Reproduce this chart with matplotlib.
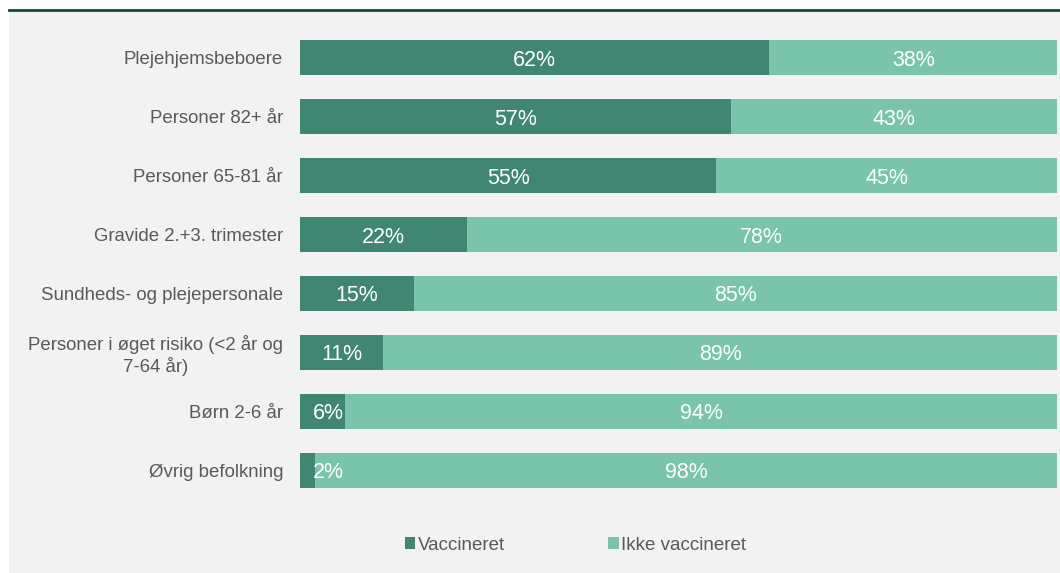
import matplotlib
matplotlib.use("Agg")
import matplotlib.pyplot as plt
from matplotlib import patches

plt.rcParams['font.family'] = ['Liberation Sans', 'DejaVu Sans']

categories = [
    'Plejehjemsbeboere',
    'Personer 82+ år',
    'Personer 65-81 år',
    'Gravide 2.+3. trimester',
    'Sundheds- og plejepersonale',
    'Personer i øget risiko (<2 år og\n7-64 år)',
    'Børn 2-6 år',
    'Øvrig befolkning',
]
vaccineret = [62, 57, 55, 22, 15, 11, 6, 2]
ikke_vaccineret = [38, 43, 45, 78, 85, 89, 94, 98]
series_names = ['Vaccineret', 'Ikke vaccineret']

dark = '#418673'
light = '#79c4ab'
label_col = '#595959'
bg = '#f2f2f2'

W, H = 1060, 573
fig = plt.figure(figsize=(W / 100, H / 100), dpi=100, facecolor='white')

# grey panel + dark top rule
fig.patches.append(patches.Rectangle((9 / W, 0), 1 - 9 / W, 1 - 10.5 / H,
                                     transform=fig.transFigure, facecolor=bg,
                                     edgecolor='none', zorder=-10))
fig.lines.append(plt.Line2D([9 / W, 1], [1 - 9.5 / H, 1 - 9.5 / H],
                            transform=fig.transFigure, color='#0b4a3c',
                            linewidth=2, zorder=-5))

ax = fig.add_axes([300 / W, 0.1283, 757 / W, 0.822])
ax.set_facecolor('none')

ys = list(range(len(categories)))
b1 = ax.barh(ys, vaccineret, height=0.594, color=dark, label=series_names[0])
b2 = ax.barh(ys, ikke_vaccineret, left=vaccineret, height=0.594, color=light,
             label=series_names[1])

for y, v, n in zip(ys, vaccineret, ikke_vaccineret):
    ax.text(max(v / 2, 3.7), y, f'{v}%', ha='center', va='center_baseline',
            color='white', fontsize=15.5)
    ax.text(v + n / 2, y, f'{n}%', ha='center', va='center_baseline',
            color='white', fontsize=15.5)

ax.set_xlim(0, 100)
ax.set_ylim(len(categories) - 0.5, -0.5)
ax.set_yticks(ys)
ax.set_yticklabels(categories, fontsize=13.4, color=label_col,
                   multialignment='center')
ax.tick_params(axis='y', length=0, pad=12.2)
ax.set_xticks([])
for s in ax.spines.values():
    s.set_visible(False)

fig.legend(handles=[b1, b2], loc='center', bbox_to_anchor=(0.543, 1 - 545 / H),
           ncol=2, frameon=False, fontsize=13.5, labelcolor=label_col,
           handlelength=0.55, handleheight=0.55, handletextpad=0.15,
           columnspacing=5.5)

fig.savefig('out.png', dpi=100, facecolor=fig.get_facecolor())
